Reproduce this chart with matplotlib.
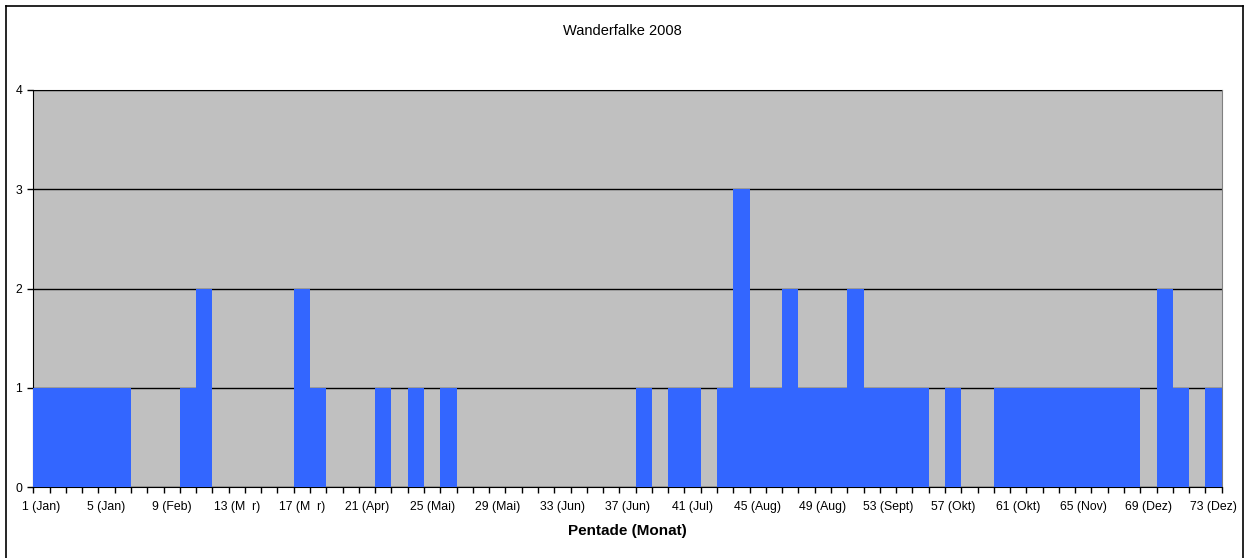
import matplotlib
matplotlib.use('Agg')
import matplotlib.pyplot as plt
from matplotlib.lines import Line2D

plt.rcParams['font.family'] = ['Liberation Sans', 'DejaVu Sans']

# Anzahl Beobachtungen je Pentade (1..73)
pentaden = list(range(1, 74))
werte = [1, 1, 1, 1, 1, 1, 0, 0, 0, 1,
         2, 0, 0, 0, 0, 0, 2, 1, 0, 0,
         0, 1, 0, 1, 0, 1, 0, 0, 0, 0,
         0, 0, 0, 0, 0, 0, 0, 1, 0, 1,
         1, 0, 1, 3, 1, 1, 2, 1, 1, 1,
         2, 1, 1, 1, 1, 0, 1, 0, 0, 1,
         1, 1, 1, 1, 1, 1, 1, 1, 0, 2,
         1, 0, 1]

tick_pos = list(range(1, 74, 4))
tick_labels = ['1 (Jan)', '5 (Jan)', '9 (Feb)', '13 (M  r)', '17 (M  r)', '21 (Apr)',
               '25 (Mai)', '29 (Mai)', '33 (Jun)', '37 (Jun)', '41 (Jul)', '45 (Aug)',
               '49 (Aug)', '53 (Sept)', '57 (Okt)', '61 (Okt)', '65 (Nov)', '69 (Dez)',
               '73 (Dez)']

fig = plt.figure(figsize=(12.45, 5.58), dpi=100)
ax = fig.add_axes([33.3 / 1245, 71 / 558, (1221.7 - 33.3) / 1245, (487 - 90) / 558])
ax.set_facecolor('#C0C0C0')

ax.bar(pentaden, werte, width=1.0, color='#3366FF', zorder=3)

ax.set_xlim(0.5, 73.5)
ax.set_ylim(0, 4)
ax.set_yticks([0, 1, 2, 3, 4])
ax.yaxis.grid(True, color='black', linewidth=1, zorder=1)
ax.set_axisbelow(True)

ax.set_xticks(tick_pos)
ax.set_xticklabels(tick_labels)
ax.set_xticks([i + 0.5 for i in range(0, 74)], minor=True)
ax.tick_params(axis='x', which='major', length=0, pad=10, labelsize=8.8)
ax.tick_params(axis='x', which='minor', length=4, width=1, direction='out', color='black')
ax.tick_params(axis='y', length=4, width=1, labelsize=8.8, pad=4)

for s in ['top', 'right']:
    ax.spines[s].set_color('#808080')
for s in ['left', 'bottom']:
    ax.spines[s].set_color('black')
ax.spines['top'].set_zorder(0)

fig.text(0.5, 1 - 31 / 558, 'Wanderfalke 2008', ha='center', va='center', fontsize=10.5)
fig.text(ax.get_position().x0 + ax.get_position().width / 2, 1 - 531 / 558, 'Pentade (Monat)',
         ha='center', va='center', fontsize=11, fontweight='bold')

# Rahmen des Diagrammbereichs
x0, x1, y_top = 6 / 1245, 1243 / 1245, 1 - 6 / 558
fig.add_artist(Line2D([x0, x0], [0, y_top], color='black', linewidth=1.2))
fig.add_artist(Line2D([x0, x1], [y_top, y_top], color='black', linewidth=1.2))
fig.add_artist(Line2D([x1, x1], [0, y_top], color='black', linewidth=1.2))

fig.savefig('out.png', dpi=100)
